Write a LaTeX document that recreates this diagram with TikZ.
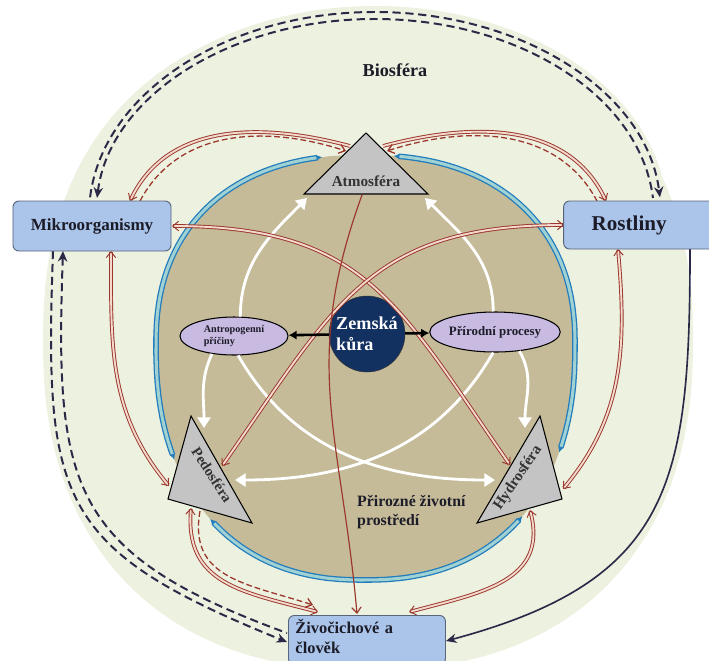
\documentclass[tikz,border=0pt]{standalone}
\usepackage{fontspec}
\setmainfont{Liberation Serif}
\usepackage{tikz}
\usetikzlibrary{arrows.meta}
\usetikzlibrary{shapes.geometric}

\definecolor{biofill}{RGB}{237,241,224}
\definecolor{soilfill}{RGB}{197,187,152}
\definecolor{ringline}{RGB}{34,124,188}
\definecolor{ringfill}{RGB}{160,210,212}
\definecolor{redline}{RGB}{155,55,45}
\definecolor{redfill}{RGB}{244,218,206}
\definecolor{navyline}{RGB}{42,42,72}
\definecolor{boxfill}{RGB}{170,196,234}
\definecolor{boxline}{RGB}{88,100,122}
\definecolor{lavender}{RGB}{201,186,226}
\definecolor{corefill}{RGB}{18,48,96}
\definecolor{spheregray}{RGB}{196,196,196}
\definecolor{ink}{RGB}{28,28,40}

\tikzset{
  rbarb/.tip={Straight Barb[length=5pt,width=8pt]},
  wtip/.tip={Triangle[length=9pt,width=11pt]},
  ntip/.tip={Stealth[length=9pt,width=8pt]},
  btip/.tip={Latex[length=5pt,width=5pt]},
  sphere/.style={draw=black, fill=spheregray, line width=0.9pt},
  sphere label/.style={text=black!80, inner sep=0pt},
  bio box/.style={draw=boxline, fill=boxfill, rounded corners=5pt, line width=0.8pt, text=ink},
  cause/.style={ellipse, draw=black, fill=lavender, line width=0.9pt, inner sep=0pt, align=left, text=ink},
  red flow/.style={draw=redline, double=redfill, double distance=1.6pt, line width=0.8pt},
  red dashed/.style={draw=redline, line width=1.1pt, dash pattern=on 5pt off 2.5pt},
  ring flow/.style={draw=ringline, double=ringfill, double distance=2.6pt, line width=1.1pt, {btip}-{btip}},
  white flow/.style={draw=white, line width=2.4pt, -{wtip}},
  navy dashed/.style={draw=navyline, line width=1.7pt, dash pattern=on 7pt off 4pt},
}

\begin{document}
\begin{tikzpicture}[x=0.03cm, y=0.03cm,
  declare function={
    ringx(\t)=364+ifthenelse(cos(\t)<0,-208,211)*(abs(cos(\t))+0.00001)^0.87;
    ringy(\t)=-345+ifthenelse(sin(\t)<0,-235,190)*(abs(sin(\t))+0.00001)^0.87;
    biox(\t)=368+325*ifthenelse(cos(\t)<0,-1,1)*(abs(cos(\t))+0.00001)^0.87;
    bioy(\t)=-340+ifthenelse(sin(\t)<0,-330,325)*(abs(sin(\t))+0.00001)^0.87;
  }]
\useasboundingbox (0,0) rectangle (709,-660);
\clip (0,0) rectangle (709,-660);
\coordinate (top) at (375,-215);
% corners of the spheres
\coordinate (a1) at (366,-133);
\coordinate (a2) at (304,-194);
\coordinate (a3) at (428,-194);
\coordinate (p1) at (191,-416);
\coordinate (p2) at (168,-499);
\coordinate (p3) at (252,-523);
\coordinate (h1) at (540,-416);
\coordinate (h2) at (562,-499);
\coordinate (h3) at (477,-523);
% ends of the flows
\coordinate (atm-l) at (350,-146);
\coordinate (atm-ld) at (346,-151);
\coordinate (atm-r) at (383,-146);
\coordinate (atm-rd) at (387,-151);
\coordinate (atm-b) at (362,-195);
\coordinate (ped-r) at (222,-466);
\coordinate (ped-l) at (169,-486);
\coordinate (ped-b) at (191,-508);
\coordinate (ped-bd) at (200,-511);
\coordinate (hyd-l) at (510,-465);
\coordinate (hyd-r) at (563,-489);
\coordinate (hyd-b) at (530,-510);
\coordinate (mik-t) at (130,-201);
\coordinate (mik-td) at (140,-201);
\coordinate (mik-r) at (172,-226);
\coordinate (mik-b) at (111,-251);
\coordinate (mik-nl) at (53,-251);
\coordinate (mik-nl2) at (63,-251);
\coordinate (ros-t) at (606,-201);
\coordinate (ros-td) at (597,-201);
\coordinate (ros-l) at (564,-225);
\coordinate (ros-b) at (618,-249);
\coordinate (ros-nr) at (690,-249);
\coordinate (ziv-t) at (357,-614);
\coordinate (ziv-tl) at (318,-612);
\coordinate (ziv-tld) at (313,-605);
\coordinate (ziv-tr) at (409,-612);
\coordinate (ziv-nl) at (287,-642);
\coordinate (ziv-nl2) at (287,-633);
\coordinate (ziv-nr) at (446,-641);
\path (top) ++(175:286 and 203) coordinate (n-out);
\path (top) ++(175:279 and 196) coordinate (n-in);

% draws biosphere and environment
\fill[biofill] plot[domain=0.5:360.5, samples=120] ({biox(\x)},{bioy(\x)}) -- cycle;
\fill[biofill] (top) ++(180:292 and 209) arc[start angle=180, end angle=0, x radius=292, y radius=209] -- cycle;
\fill[soilfill] plot[domain=0.5:360.5, samples=120] ({ringx(\x)},{ringy(\x)}) -- cycle;

% draws outer flows
\draw[navy dashed, -{ntip}] (n-out) arc[start angle=175, end angle=5, x radius=286, y radius=203];
\draw[navy dashed, {ntip}-] (n-in) arc[start angle=175, end angle=5, x radius=279, y radius=196];
\draw[navy dashed, -{ntip}] (mik-nl) to[out=-92, in=158, looseness=1.4] (ziv-nl);
\draw[navy dashed, {ntip}-] (mik-nl2) to[out=-92, in=160, looseness=1.35] (ziv-nl2);
\draw[navyline, line width=1.4pt, -{ntip}] (ros-nr) to[out=-90, in=15, looseness=1.3] (ziv-nr);

% draws ring round the environment
\draw[ring flow] plot[domain=99:206, samples=40] ({ringx(\x)},{ringy(\x)});
\draw[ring flow] plot[domain=225:316, samples=40] ({ringx(\x)},{ringy(\x)});
\draw[ring flow] plot[domain=84:-24, samples=40] ({ringx(\x)},{ringy(\x)});

% draws centre
\node[cause, minimum width=3.24cm, minimum height=1.14cm, font=\fontsize{8.7}{10}\selectfont\bfseries] (antro) at (234,-336) {Antropogenní\\příčiny};
\node[cause, minimum width=3.48cm, minimum height=1.2cm, font=\fontsize{11}{13}\selectfont\bfseries] (prir) at (495,-332) {Přírodní procesy};
\node[circle, draw=black!80, fill=corefill, minimum size=2.28cm, inner sep=0pt, align=left, text=white, font=\fontsize{15.5}{17.5}\selectfont\bfseries] (core) at (367,-334) {Zemská\\kůra};

% draws white flows
\coordinate (w1) at (307,-198);
\coordinate (w2) at (425,-198);
\coordinate (w3) at (204,-428);
\coordinate (w4) at (525,-428);
\coordinate (w5) at (495,-480);
\coordinate (w6) at (235,-480);
\draw[white flow] (antro.72) to[out=90, in=225] (w1);
\draw[white flow] (prir.95) to[out=90, in=-45] (w2);
\draw[white flow] (antro.219) to[out=-115, in=90] (w3);
\draw[white flow] (prir.-38) to[out=-60, in=90] (w4);
\draw[white flow] (antro.-78) to[out=-60, in=180] (w5);
\draw[white flow] (prir.-95) to[out=-120, in=0] (w6);

% draws red flows
\draw[red flow, {rbarb}-] (mik-t) to[out=65, in=165] (atm-l);
\draw[red dashed, -{rbarb}] (mik-td) to[out=62, in=162] (atm-ld);
\draw[red flow, -{rbarb}] (atm-r) to[out=15, in=115] (ros-t);
\draw[red dashed, {rbarb}-] (atm-rd) to[out=18, in=118] (ros-td);
\draw[red flow, {rbarb}-{rbarb}] (mik-r) to[out=0, in=125, looseness=1.2] (hyd-l);
\draw[red flow, {rbarb}-{rbarb}] (ros-l) to[out=180, in=55, looseness=1.2] (ped-r);
\draw[redline, line width=1pt, -{rbarb}] (atm-b) to[out=-110, in=95, looseness=1.1] (ziv-t);
\draw[red flow, {rbarb}-{rbarb}] (mik-b) to[out=-90, in=130] (ped-l);
\draw[red flow, {rbarb}-{rbarb}] (ros-b) to[out=-85, in=50] (hyd-r);
\draw[red flow, {rbarb}-{rbarb}] (ped-b) to[out=-95, in=165, looseness=1.2] (ziv-tl);
\draw[red dashed, -{rbarb}] (ped-bd) to[out=-100, in=162, looseness=1.2] (ziv-tld);
\draw[red flow, {rbarb}-{rbarb}] (hyd-b) to[out=-75, in=15, looseness=1.2] (ziv-tr);

% draws black flows
\draw[line width=2.2pt, -{Latex[length=7pt,width=8pt]}] (core) -- (antro);
\draw[line width=2.2pt, -{Latex[length=7pt,width=8pt]}] (core) -- (prir);

% draws spheres
\draw[sphere] (a1) -- (a2) -- (a3) -- cycle;
\draw[sphere] (p1) -- (p2) -- (p3) -- cycle;
\draw[sphere] (h1) -- (h2) -- (h3) -- cycle;
% labels spheres
\node[sphere label, font=\fontsize{13}{15}\selectfont\bfseries] (atm) at (366,-181) {Atmosféra};
\node[sphere label, rotate=-57, font=\fontsize{12.5}{15}\selectfont\bfseries] (ped) at (212,-475) {Pedosféra};
\node[sphere label, rotate=56, font=\fontsize{13}{15}\selectfont\bfseries] (hyd) at (518,-478) {Hydrosféra};

% draws living things
\node[bio box, minimum width=4.74cm, minimum height=1.5cm, font=\fontsize{14.5}{17}\selectfont\bfseries] (mikro) at (92,-226) {Mikroorganismy};
\node[bio box, minimum height=1.44cm, text width=3.2cm, inner xsep=0.84cm, align=left, font=\fontsize{18}{21}\selectfont\bfseries] (rost) at (645,-225) {Rostliny};
\node[bio box, anchor=north west, text width=4.29cm, inner xsep=0.21cm, inner ysep=0.12cm, align=left, font=\fontsize{14}{16.5}\selectfont\bfseries] (ziv) at (288,-615) {Živočichové a\\člověk\vspace{6pt}};

% labels areas
\node[text=ink, font=\fontsize{15.5}{18}\selectfont\bfseries] (biosfera) at (395,-70) {Biosféra};
\node[anchor=west, align=left, inner sep=0pt, text=ink, font=\fontsize{13.5}{16.5}\selectfont\bfseries] (prostredi) at (357,-512) {Přirozné životní\\prostředí};
\end{tikzpicture}
\end{document}
